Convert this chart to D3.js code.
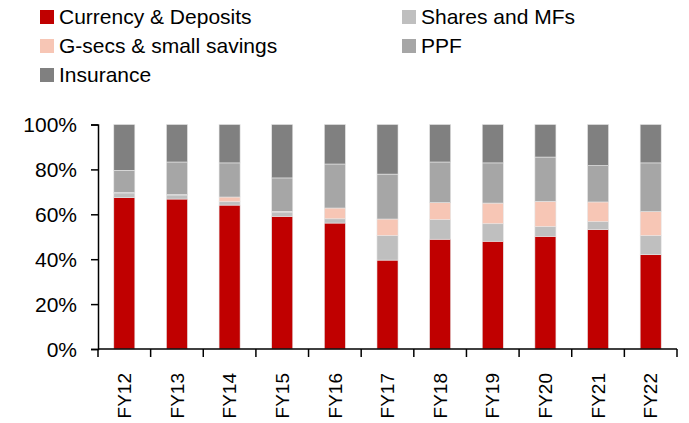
<!DOCTYPE html>
<html>
<head>
<meta charset="utf-8">
<script src="https://cdn.jsdelivr.net/npm/d3@7"></script>
<style>
	body { margin: 0; background: #fff; }
	text { font-family: "Liberation Sans", Arial, sans-serif; fill: #000; }
</style>
</head>
<body>
<div id="chart"></div>
<script>
// stacked share of household financial savings (%)
const years = ['FY12', 'FY13', 'FY14', 'FY15', 'FY16', 'FY17', 'FY18', 'FY19', 'FY20', 'FY21', 'FY22'];
const currency = [67.4, 66.8, 64.1, 59.1, 56.1, 39.6, 48.9, 48.0, 50.2, 53.2, 42.0];
const shares = [2.1, 1.8, 1.5, 1.9, 1.9, 10.9, 8.7, 7.8, 4.3, 3.5, 8.5];
const gsecs = [0.2, 0.2, 2.1, 0.3, 4.8, 7.4, 7.6, 9.2, 11.3, 8.8, 10.7];
const ppf = [9.9, 14.5, 15.2, 14.9, 19.6, 20.0, 18.1, 17.9, 19.7, 16.2, 21.7];
const insurance = [20.4, 16.7, 17.1, 23.8, 17.6, 22.1, 16.7, 17.1, 14.5, 18.3, 17.1];
const yTicks = [0, 20, 40, 60, 80, 100];

const seriesNames = ['Currency & Deposits', 'Shares and MFs', 'G-secs & small savings', 'PPF', 'Insurance'];
const seriesVals = [currency, shares, gsecs, ppf, insurance];
const colors = ['#C00000', '#BFBFBF', '#F7C6B5', '#A6A6A6', '#808080'];

const width = 689, height = 423;
const margin = { top: 124.5, right: 12, bottom: 74, left: 98 };

const svg = d3.select('#chart').append('svg')
	.attr('width', width)
	.attr('height', height);

const table = years.map((y, i) => {
	const row = { year: y };
	seriesNames.forEach((s, j) => row[s] = seriesVals[j][i]);
	return row;
});

const stacked = d3.stack().keys(seriesNames)(table);

const x = d3.scaleBand()
	.domain(years)
	.range([margin.left, width - margin.right])
	.paddingInner(0.6)
	.paddingOuter(0.3);

const y = d3.scaleLinear()
	.domain([0, 100])
	.range([height - margin.bottom, margin.top]);

const color = d3.scaleOrdinal().domain(seriesNames).range(colors);

svg.append('g')
	.selectAll('g')
	.data(stacked)
	.enter().append('g')
	.attr('fill', d => color(d.key))
	.selectAll('rect')
	.data(d => d)
	.enter().append('rect')
	.attr('x', d => x(d.data.year))
	.attr('y', d => y(d[1]))
	.attr('width', x.bandwidth())
	.attr('height', d => y(d[0]) - y(d[1]))
	.attr('stroke', '#e6e6e6')
	.attr('stroke-width', 0.6);

// y axis
const yAxis = svg.append('g')
	.attr('transform', `translate(${margin.left},0)`)
	.call(d3.axisLeft(y).tickValues(yTicks).tickFormat(d => d + '%').tickSize(7).tickPadding(14));
yAxis.select('.domain').attr('stroke', '#000').attr('stroke-width', 1.5);
yAxis.selectAll('line').attr('stroke', '#000').attr('stroke-width', 1.5);
yAxis.selectAll('text').style('font-size', '21px').attr('dy', '0.35em');

// x axis: ticks on band edges
const edges = years.map(d => x(d) - x.step() * x.paddingInner() / 2).concat([width - margin.right]);
const xAxis = svg.append('g')
	.attr('transform', `translate(0,${height - margin.bottom})`);
xAxis.append('line')
	.attr('x1', margin.left).attr('x2', width - margin.right)
	.attr('stroke', '#000').attr('stroke-width', 1.5);
xAxis.selectAll('.edge')
	.data(edges)
	.enter().append('line')
	.attr('class', 'edge')
	.attr('x1', d => d).attr('x2', d => d)
	.attr('y1', 0).attr('y2', 8)
	.attr('stroke', '#000').attr('stroke-width', 1.5);
xAxis.selectAll('.lbl')
	.data(years)
	.enter().append('text')
	.attr('class', 'lbl')
	.attr('transform', d => `translate(${x(d) + x.bandwidth() / 2},${24}) rotate(-90)`)
	.attr('text-anchor', 'end')
	.attr('dy', '0.35em')
	.style('font-size', '19px')
	.text(d => d);

// legend
const legendPos = [[40, 17], [402, 17], [40, 46], [402, 46], [40, 75]];
const legend = svg.append('g')
	.selectAll('g')
	.data(seriesNames)
	.enter().append('g')
	.attr('transform', (d, i) => `translate(${legendPos[i][0]},${legendPos[i][1]})`);
legend.append('rect')
	.attr('x', 0).attr('y', -7)
	.attr('width', 14).attr('height', 14)
	.attr('fill', d => color(d));
legend.append('text')
	.attr('x', 19)
	.attr('dy', '0.35em')
	.style('font-size', '21px')
	.text(d => d);
</script>
</body>
</html>
